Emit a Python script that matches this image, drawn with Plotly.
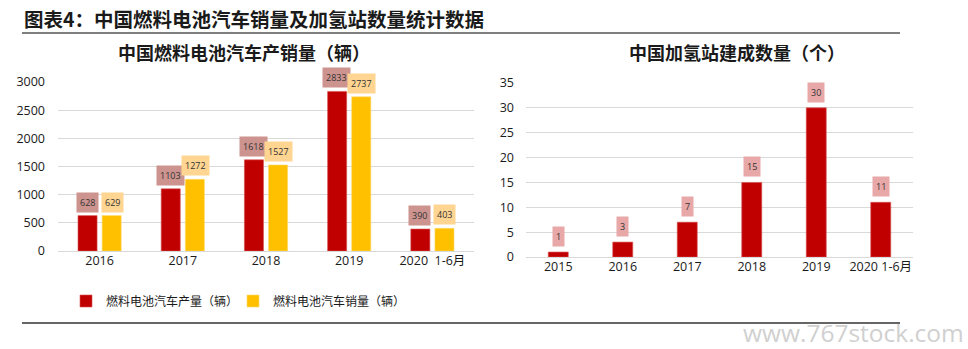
import plotly.graph_objects as go

# ---- data ----
left_categories = ["2016", "2017", "2018", "2019", "2020  1-6月"]
production = [628, 1103, 1618, 2833, 390]
sales = [629, 1272, 1527, 2737, 403]

right_categories = ["2015", "2016", "2017", "2018", "2019", "2020 1-6月"]
stations = [1, 3, 7, 15, 30, 11]

left_ticks = [0, 500, 1000, 1500, 2000, 2500, 3000]
right_ticks = [0, 5, 10, 15, 20, 25, 30, 35]

# ---- styling ----
W, H = 968, 349
RED = "#C00000"
YELLOW = "#FFC000"
FONT = "Open Sans, Noto Sans CJK SC, sans-serif"
CJK = "Noto Sans CJK SC, sans-serif"


def px_x(p):
    return p / W


def px_y(p):
    return 1 - p / H


fig = go.Figure()

fig.add_trace(go.Bar(
    x=left_categories, y=production, name="燃料电池汽车产量（辆）",
    marker=dict(color=RED, line=dict(color="#d9534f", width=0.6)),
    xaxis="x", yaxis="y",
))
fig.add_trace(go.Bar(
    x=left_categories, y=sales, name="燃料电池汽车销量（辆）",
    marker=dict(color=YELLOW, line=dict(color="#ffd966", width=0.6)),
    xaxis="x", yaxis="y",
))
fig.add_trace(go.Bar(
    x=right_categories, y=stations, name="加氢站",
    marker=dict(color=RED, line=dict(color="#d9534f", width=0.6)),
    xaxis="x2", yaxis="y2", showlegend=False, width=0.31,
))

annotations = []
# category positions given as indices (numeric-looking strings would be read as indices)
for i, v in enumerate(production):
    annotations.append(dict(
        x=i, y=v, xref="x", yref="y", text=str(v), showarrow=False,
        xshift=-12.5, yshift=3, yanchor="bottom",
        bgcolor="#CD948F", borderpad=3,
        font=dict(family=FONT, size=9, color="#333333"),
    ))
for i, v in enumerate(sales):
    annotations.append(dict(
        x=i, y=v, xref="x", yref="y", text=str(v), showarrow=False,
        xshift=12.5, yshift=3, yanchor="bottom",
        bgcolor="#FFD591", borderpad=3,
        font=dict(family=FONT, size=9, color="#333333"),
    ))
for i, v in enumerate(stations):
    annotations.append(dict(
        x=i, y=v, xref="x2", yref="y2", text=str(v), showarrow=False,
        yshift=5, yanchor="bottom",
        bgcolor="#E8A8A8", borderpad=3,
        font=dict(family=FONT, size=9, color="#333333"),
    ))

# titles
annotations.append(dict(
    x=px_x(22), y=px_y(18), xref="paper", yref="paper", xanchor="left", yanchor="middle",
    text="<b>图表4：中国燃料电池汽车销量及加氢站数量统计数据</b>", showarrow=False,
    font=dict(family=CJK, size=19.5, color="#1a1a1a"),
))
annotations.append(dict(
    x=px_x(244), y=px_y(52), xref="paper", yref="paper", xanchor="center", yanchor="middle",
    text="<b>中国燃料电池汽车产销量（辆）</b>", showarrow=False,
    font=dict(family=CJK, size=18, color="#1a1a1a"),
))
annotations.append(dict(
    x=px_x(737), y=px_y(52), xref="paper", yref="paper", xanchor="center", yanchor="middle",
    text="<b>中国加氢站建成数量（个）</b>", showarrow=False,
    font=dict(family=CJK, size=18, color="#1a1a1a"),
))
# watermark
annotations.append(dict(
    x=px_x(966), y=px_y(332), xref="paper", yref="paper", xanchor="right", yanchor="middle",
    text="www.767stock.com", showarrow=False,
    font=dict(family="Open Sans, sans-serif", size=24.5, color="#d0d0d0"),
))

shapes = [
    dict(type="line", xref="paper", yref="paper", x0=px_x(22), x1=px_x(900),
         y0=px_y(33), y1=px_y(33), line=dict(color="#7f7f7f", width=2)),
    dict(type="line", xref="paper", yref="paper", x0=px_x(22), x1=px_x(900),
         y0=px_y(323), y1=px_y(323), line=dict(color="#333333", width=1.5)),
]

axis_font = dict(family=FONT, size=12.5, color="#1a1a1a")

fig.update_layout(
    width=W, height=H, margin=dict(l=0, r=0, t=0, b=0, autoexpand=False),
    paper_bgcolor="white", plot_bgcolor="white",
    barmode="group", bargap=0.42, bargroupgap=0.21,
    xaxis=dict(domain=[px_x(58), px_x(474)], anchor="y", type="category",
               range=[-0.5, len(left_categories) - 0.5], automargin=False,
               tickfont=axis_font, showgrid=False, showline=False, ticks=""),
    yaxis=dict(domain=[px_y(251), px_y(82)], anchor="x", range=[0, 3000], automargin=False,
               tickvals=left_ticks, tickfont=axis_font, showgrid=True,
               gridcolor="#d9d9d9", gridwidth=1, zeroline=True, zerolinecolor="#d9d9d9",
               zerolinewidth=1, showline=False, ticks="", ticklabelstandoff=12),
    xaxis2=dict(domain=[px_x(526), px_x(913)], anchor="y2", type="category",
                range=[-0.5, len(right_categories) - 0.5], automargin=False,
                tickfont=axis_font, showgrid=False, showline=False, ticks=""),
    yaxis2=dict(domain=[px_y(257), px_y(83)], anchor="x2", range=[0, 35], automargin=False,
                tickvals=right_ticks, tickfont=axis_font, showgrid=True,
                gridcolor="#d9d9d9", gridwidth=1, zeroline=True, zerolinecolor="#d9d9d9",
                zerolinewidth=1, showline=False, ticks="", ticklabelstandoff=11),
    legend=dict(orientation="h", x=px_x(66), y=px_y(301), xanchor="left", yanchor="middle",
                font=dict(family=CJK, size=12, color="#1a1a1a"), entrywidth=122,
                itemwidth=30, bgcolor="rgba(0,0,0,0)"),
    annotations=annotations,
    shapes=shapes,
    showlegend=True,
)

fig.write_html("out.html")
